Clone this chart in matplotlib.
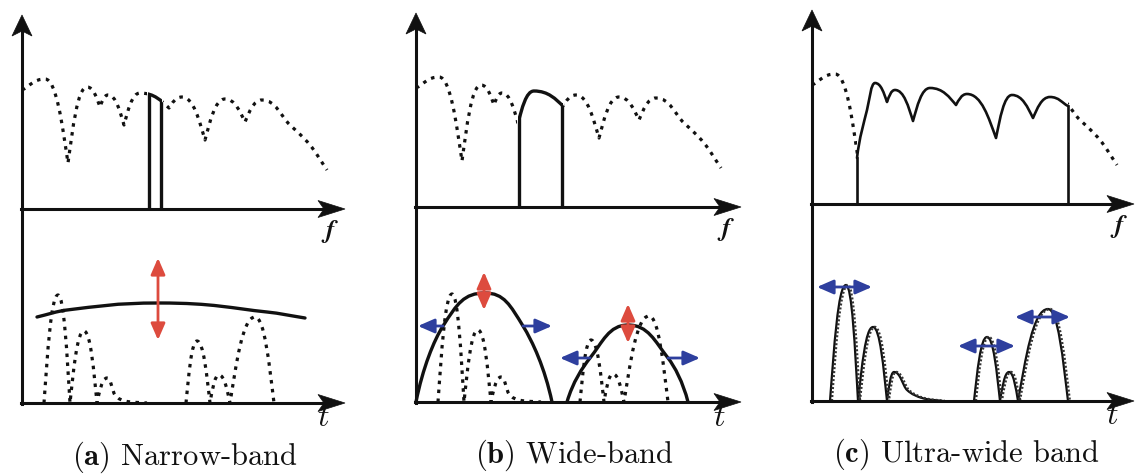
import numpy as np
import matplotlib
matplotlib.use('Agg')
import matplotlib.pyplot as plt
from matplotlib.path import Path
from matplotlib.patches import PathPatch, Polygon, Rectangle, FancyArrowPatch, ArrowStyle
from matplotlib.lines import Line2D

plt.rcParams['mathtext.fontset'] = 'cm'

# ---------------- data (schematic values, pixel units) ----------------
PANEL_TAGS = ['a', 'b', 'c']
CAPTIONS = ['Narrow-band', 'Wide-band', 'Ultra-wide band']

# background (dotted) spectrum: x relative to vertical axis, height above f-axis
SPEC_X = [0, 23, 46, 65, 78, 86, 102, 118, 147, 160, 183, 203, 223, 240, 268, 288, 305]
SPEC_H = [119, 130, 46, 122, 102, 114, 84, 116, 101, 112, 69, 110, 87, 109, 84, 64, 39]
SPEC_K = 'spvpvpvpvpvpvpsss'

# occupied band edges (relative x) for (a) and (b)
BAND_LO = [127, 103]
BAND_HI = [139, 146]

# ultra-wide band spectrum (c)
UWB_X = [45, 55, 63, 75, 83, 101, 118, 144, 155, 184, 200, 221, 238, 256]
UWB_H = [46, 94, 121, 102, 114, 83, 116, 99, 110, 66, 109, 86, 107, 98]
UWB_K = 'vspvpvpvpvpvps'

# multipath impulse response (dotted), two clusters, height above t-axis
MP1_X = [22, 36, 48, 62, 75, 85, 93, 103, 125]
MP1_H = [0, 108, 0, 72, 0, 25, 8, 2, 0]
MP1_K = 'vpvpvpsss'
MP2_X = [164, 175, 188, 197, 208, 233, 252]
MP2_H = [0, 62, 0, 28, 0, 86, 0]
MP2_K = 'vpvpvpv'

# resolved pulses in (c)
UP1_X = [18, 34, 46, 61, 75, 82, 95, 110, 131]
UP1_H = [0, 116, 0, 74, 0, 29, 11, 3, 0]
UP2_X = [162, 175, 188, 197, 206, 236, 256]
UP2_H = [0, 64, 0, 29, 0, 92, 0]

# narrow-band envelope (a)
ENVA_X = [15, 45, 138, 245, 283]
ENVA_H = [86, 93, 100, 91, 85]
ENVA_K = 'sspss'

# wide-band envelopes (b)
ARCH1_X = [0, 27, 69, 107, 136]
ARCH1_H = [0, 76, 109, 76, 0]
ARCH2_X = [151, 174, 212, 252, 272]
ARCH2_H = [0, 44, 77, 44, 0]
ARCH_K = 'vspsv'

# amplitude (red) arrows: panel, x, from-height, to-height
RED_PANEL = [0, 1, 1]
RED_X = [136, 68, 212]
RED_H0 = [63, 92, 59]
RED_H1 = [145, 130, 98]

# delay (blue) arrows in (b): x start, x end, height (single-headed)
BLUE_B_X0 = [27, 107, 174, 252]
BLUE_B_X1 = [2, 136, 144, 284]
BLUE_B_H = [76, 76, 44, 44]
# double-headed in (c)
BLUE_C_X0 = [5, 146, 203]
BLUE_C_X1 = [60, 203, 258]
BLUE_C_H = [114, 55, 84]

# ---------------- layout ----------------
W, H = 1137, 474
ORIGIN_X = [22, 416, 812]
F_AXIS_Y = [209, 207, 204]
T_AXIS_Y = [403, 402, 401]
AXIS_TOP = [15, 13, 10]
AXIS_END = [345, 741, 1134]
CAPTION_X = [185, 574, 966]
CAPTION_Y = [465, 463, 462]

RED = '#dd4b3e'
BLUE = '#2e3f9e'
INK = '#111111'
DOT = (0, (1.1, 1.7))
DOT_LW = 2.3

fig = plt.figure(figsize=(W / 100, H / 100), dpi=100)
ax = fig.add_axes([0, 0, 1, 1])
ax.set_xlim(0, W)
ax.set_ylim(H, 0)
ax.axis('off')


def curve(xs, hs, kinds, ox, base):
    P = np.column_stack([np.asarray(xs, float) + ox, base - np.asarray(hs, float)])
    n = len(P)

    def handle(i, j):
        d = P[j] - P[i]
        k = kinds[i]
        if k == 'p':
            return np.array([0.5 * d[0], 0.0])
        if k == 'v':
            return np.array([0.25 * d[0], 0.45 * d[1]])
        if 0 < i < n - 1:
            m = (P[i + 1, 1] - P[i - 1, 1]) / (P[i + 1, 0] - P[i - 1, 0])
            return np.array([d[0] / 3, m * d[0] / 3])
        return d / 3

    verts = [P[0]]
    codes = [Path.MOVETO]
    for i in range(n - 1):
        verts += [P[i] + handle(i, i + 1), P[i + 1] + handle(i + 1, i), P[i + 1]]
        codes += [Path.CURVE4] * 3
    return verts, codes


def draw(verts, codes, lw=2.2, ls='-', color=INK, clip=None, z=3, cap='round'):
    pp = PathPatch(Path(verts, codes), fill=False, lw=lw, ls=ls, ec=color,
                   capstyle=cap, joinstyle='round', zorder=z)
    ax.add_patch(pp)
    if clip is not None:
        pp.set_clip_path(clip)
    return pp


def area_patch(verts, codes, base):
    v = list(verts) + [[verts[-1][0], base], [verts[0][0], base], [verts[0][0], base]]
    c = list(codes) + [Path.LINETO, Path.LINETO, Path.CLOSEPOLY]
    return PathPatch(Path(v, c), transform=ax.transData)


def rect(x0, x1):
    return Rectangle((x0, -10), x1 - x0, H + 20, transform=ax.transData)


def axes_frame(k):
    ox, fy, ty, top, end = ORIGIN_X[k], F_AXIS_Y[k], T_AXIS_Y[k], AXIS_TOP[k], AXIS_END[k]
    lw = 2.2
    ax.add_line(Line2D([ox, ox], [top + 15, ty + 1], color=INK, lw=lw, zorder=5))
    ax.add_patch(Polygon([[ox, top], [ox - 10, top + 21], [ox, top + 16], [ox + 10, top + 21]],
                         closed=True, fc=INK, ec=INK, lw=0.5, zorder=5))
    for y in (fy, ty):
        ax.add_line(Line2D([ox - 1, end - 20], [y, y], color=INK, lw=lw, zorder=5))
        ax.add_patch(Polygon([[end, y], [end - 27, y - 8.5], [end - 21, y], [end - 27, y + 8.5]],
                             closed=True, fc=INK, ec=INK, lw=0.5, zorder=5))
    ax.text(end - 15, fy + 22, r'$\boldsymbol{f}$', fontsize=19, ha='center', va='center', color=INK)
    ax.text(end - 22, ty + 15, r'$t$', fontsize=23, ha='center', va='center', color=INK)
    ax.text(CAPTION_X[k], CAPTION_Y[k], r'$\mathbf{(%s)}$ %s' % (PANEL_TAGS[k], CAPTIONS[k]),
            fontsize=22, family='cmr10', ha='center', va='baseline', color=INK)


def arrow(p0, p1, color, lw=2.0, style='<|-|>'):
    ax.add_patch(FancyArrowPatch(p0, p1, arrowstyle=ArrowStyle(style, head_length=0.55, head_width=0.24),
                                 mutation_scale=18, color=color, lw=lw, shrinkA=0, shrinkB=0, zorder=6))


for k in range(3):
    axes_frame(k)
    ox, fy, ty = ORIGIN_X[k], F_AXIS_Y[k], T_AXIS_Y[k]
    sv, sc = curve(SPEC_X, SPEC_H, SPEC_K, ox, fy)
    if k < 2:
        lo, hi = ox + BAND_LO[k], ox + BAND_HI[k]
        draw(sv, sc, lw=DOT_LW, ls=DOT, clip=rect(-10, lo - 2), cap='butt')
        draw(sv, sc, lw=DOT_LW, ls=DOT, clip=rect(hi + 2, W + 10), cap='butt')
        draw(sv, sc, lw=2.4, clip=rect(lo - 1.2, hi + 1.2))
        under = area_patch(sv, sc, fy)
        for xe in (lo, hi):
            ln = Line2D([xe, xe], [fy, fy - 250], color=INK, lw=2.4, zorder=3)
            ax.add_line(ln)
            ln.set_clip_path(under)
    else:
        lo, hi = ox + UWB_X[0], ox + UWB_X[-1]
        draw(sv, sc, lw=DOT_LW, ls=DOT, clip=rect(-10, lo), cap='butt')
        draw(sv, sc, lw=DOT_LW, ls=DOT, clip=rect(hi, W + 10), cap='butt')
        uv, uc = curve(UWB_X, UWB_H, UWB_K, ox, fy)
        draw(uv, uc, lw=1.9)
        ax.add_line(Line2D([lo, lo], [fy, fy - UWB_H[0]], color=INK, lw=1.9, zorder=3))
        ax.add_line(Line2D([hi, hi], [fy, fy - UWB_H[-1]], color=INK, lw=1.9, zorder=3))

    # time domain
    if k < 2:
        for xs, hs, ks in ((MP1_X, MP1_H, MP1_K), (MP2_X, MP2_H, MP2_K)):
            mv, mc = curve(xs, hs, ks, ox, ty)
            draw(mv, mc, lw=DOT_LW, ls=DOT, cap='butt')
    else:
        for xs, hs, ks in ((UP1_X, UP1_H, MP1_K), (UP2_X, UP2_H, MP2_K)):
            mv, mc = curve(xs, hs, ks, ox, ty)
            draw(mv, mc, lw=1.6)
            shifted = [[v[0] + 1.8, v[1]] for v in mv]
            draw(shifted, mc, lw=1.8, ls=(0, (0.8, 0.8)), color='#333333', cap='butt')

    if k == 0:
        ev, ec = curve(ENVA_X, ENVA_H, ENVA_K, ox, ty)
        draw(ev, ec, lw=2.4, z=4)
    if k == 1:
        for xs, hs in ((ARCH1_X, ARCH1_H), (ARCH2_X, ARCH2_H)):
            av, ac = curve(xs, hs, ARCH_K, ox, ty)
            draw(av, ac, lw=2.4, z=4)
        for x0, x1, h in zip(BLUE_B_X0, BLUE_B_X1, BLUE_B_H):
            arrow((ox + x0, ty - h), (ox + x1, ty - h), BLUE, style='-|>')
    if k == 2:
        for x0, x1, h in zip(BLUE_C_X0, BLUE_C_X1, BLUE_C_H):
            arrow((ox + x0, ty - h), (ox + x1, ty - h), BLUE)

for p, x, h0, h1 in zip(RED_PANEL, RED_X, RED_H0, RED_H1):
    ox, ty = ORIGIN_X[p], T_AXIS_Y[p]
    arrow((ox + x, ty - h0), (ox + x, ty - h1), RED)

fig.savefig('out.png', dpi=100, facecolor='white')
